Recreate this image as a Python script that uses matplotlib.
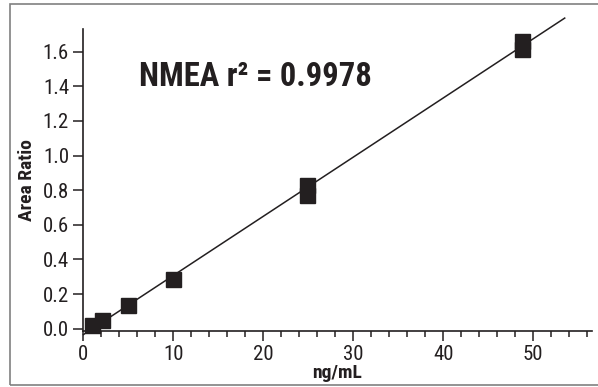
import matplotlib
matplotlib.use('Agg')
import matplotlib.pyplot as plt
from matplotlib.patches import Rectangle
from matplotlib.ticker import MultipleLocator
import numpy as np

# data (replicates at 25 and ~49 ng/mL)
conc = [1.0, 2.1, 5.0, 10.0, 24.8, 24.8, 48.7, 48.7]
area_ratio = [0.02, 0.05, 0.137, 0.286, 0.773, 0.828, 1.617, 1.66]
fit_range = [0.0, 53.5]
x_ticks = [0, 10, 20, 30, 40, 50]
y_ticks = [0.0, 0.2, 0.4, 0.6, 0.8, 1.0, 1.2, 1.4, 1.6]

plt.rcParams['font.family'] = ['Roboto Condensed', 'Roboto', 'DejaVu Sans']
ink = '#231f20'

fig = plt.figure(figsize=(5.98, 3.87), dpi=100)
fig.patch.set_facecolor('white')

# thin gray frame round the figure
fig.patches.append(Rectangle((10/598, 2/387), 1.2, 381/387, transform=fig.transFigure,
                             facecolor='none', edgecolor='#808080', linewidth=1.2))

ax = fig.add_axes([83/598, 1 - 331/387, (591.7 - 83)/598, (331 - 29)/387])

# regression line
slope, icpt = np.polyfit(conc, area_ratio, 1)
fx = np.array(fit_range)
ax.plot(fx, slope * fx + icpt, color=ink, lw=1.1, zorder=2, clip_on=False)
ax.plot(conc, area_ratio, 's', color=ink, markersize=10.8, mec=ink, zorder=3,
        clip_on=False)

ax.set_xlim(-0.05, 56.5)
ax.set_ylim(-0.013, 1.731)
ax.set_xticks(x_ticks)
ax.set_yticks(y_ticks)
ax.set_yticklabels([f'{v:.1f}' for v in y_ticks])
ax.xaxis.set_minor_locator(MultipleLocator(2))

for s in ['top', 'right']:
    ax.spines[s].set_visible(False)
for s in ['left', 'bottom']:
    ax.spines[s].set_linewidth(1.2)
    ax.spines[s].set_color(ink)

ax.tick_params(axis='both', which='major', length=7, width=1.1, color=ink,
               labelsize=15, labelcolor=ink, pad=3)
ax.tick_params(axis='x', which='minor', length=4, width=1.1, color=ink)

ax.set_xlabel('ng/mL', fontsize=14, fontweight='bold', color=ink, labelpad=0)
ax.set_ylabel('Area Ratio', fontsize=14, fontweight='bold', color=ink, labelpad=5)

ax.text(0.111, 0.84, 'NMEA r² = 0.9978', transform=ax.transAxes,
        fontsize=23.5, fontweight='bold', color=ink, ha='left', va='center')

plt.savefig('out.png', dpi=100, facecolor=fig.get_facecolor())
